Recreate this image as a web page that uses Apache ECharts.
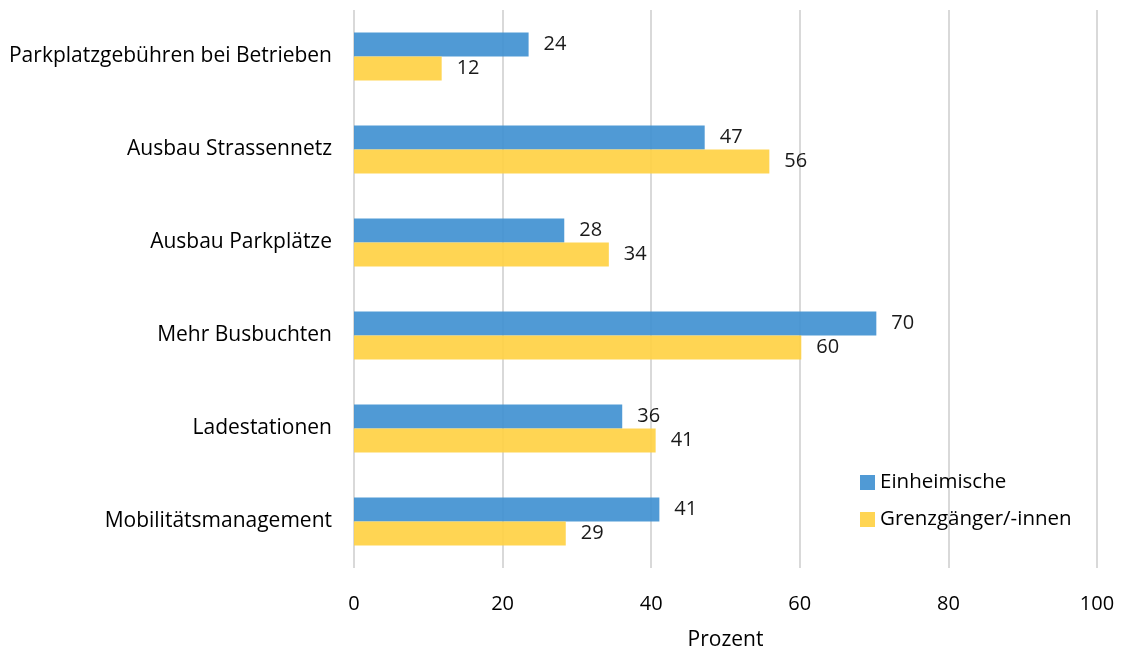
<!DOCTYPE html>
<html><head><meta charset="utf-8">
<script src="https://cdn.jsdelivr.net/npm/echarts@6/dist/echarts.min.js"></script>
<style>html,body{margin:0;padding:0;background:#fff}#c{width:1122px;height:653px}</style>
</head><body><div id="c"></div>
<script>
const categories = ["Parkplatzgebühren bei Betrieben","Ausbau Strassennetz","Ausbau Parkplätze","Mehr Busbuchten","Ladestationen","Mobilitätsmanagement"];
const einheimische = [23.5, 47.2, 28.3, 70.3, 36.1, 41.1];
const grenzgaenger = [11.8, 55.9, 34.3, 60.2, 40.6, 28.5];
const einheimischeLabels = [24, 47, 28, 70, 36, 41];
const grenzgaengerLabels = [12, 56, 34, 60, 41, 29];
const seriesNames = ["Einheimische","Grenzgänger/-innen"];
const axisTitle = "Prozent";

const FONT = "Open Sans";
const chart = echarts.init(document.getElementById('c'));
chart.setOption({
  animation:false,
  textStyle:{fontFamily:FONT},
  grid:{left:354,right:25,top:10,bottom:85,outerBoundsMode:'none',containLabel:false},
  xAxis:{type:'value',min:0,max:100,interval:20,
    name:axisTitle,nameLocation:'middle',nameGap:62,
    nameTextStyle:{fontSize:21,color:'#000',fontFamily:FONT},
    axisLabel:{fontSize:20,color:'#000',margin:26,fontFamily:FONT},
    axisLine:{show:false},axisTick:{show:false},
    splitLine:{lineStyle:{color:'#d9d9d9',width:2}}},
  yAxis:{type:'category',data:categories,inverse:true,
    axisLabel:{fontSize:21,color:'#000',margin:22,fontFamily:FONT},
    axisLine:{show:false},axisTick:{show:false}},
  legend:{orient:'vertical',left:855,top:467,itemWidth:15,itemHeight:15,itemGap:16,
    icon:'rect',textStyle:{fontSize:20.5,color:'#000',fontFamily:FONT},
    data:seriesNames},
  series:[
    {name:seriesNames[0],type:'bar',data:einheimische,barWidth:24,barGap:'0%',
     itemStyle:{color:'#3d8fd0',opacity:0.9},
     label:{show:true,position:'right',distance:15,fontSize:20,color:'#000',fontFamily:FONT,
       formatter:p=>einheimischeLabels[p.dataIndex]}},
    {name:seriesNames[1],type:'bar',data:grenzgaenger,barWidth:24,barGap:'0%',
     itemStyle:{color:'#ffd040',opacity:0.9},
     label:{show:true,position:'right',distance:15,fontSize:20,color:'#000',fontFamily:FONT,
       formatter:p=>grenzgaengerLabels[p.dataIndex]}}
  ]
});
</script></body></html>
